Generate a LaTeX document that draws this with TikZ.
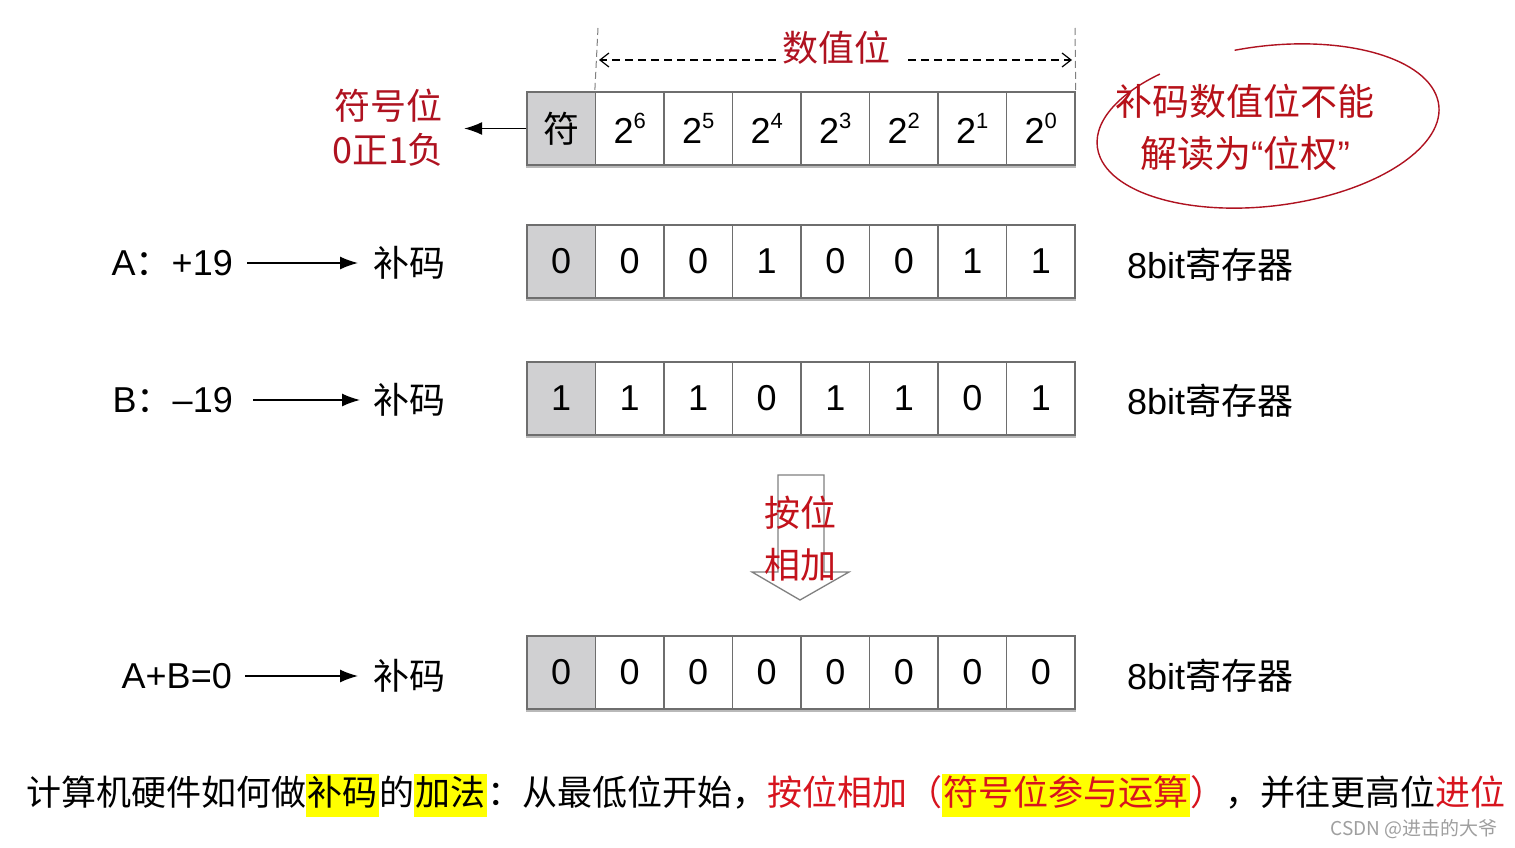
\documentclass[tikz,border=0pt]{standalone}
\usepackage{fontspec}
\setmainfont{Liberation Sans}
\newfontfamily\cjk{Noto Sans CJK SC}
\usetikzlibrary{arrows.meta}
\definecolor{lblred}{RGB}{175,18,32}
\definecolor{txtred}{RGB}{215,20,30}
\definecolor{cellgray}{RGB}{208,208,210}
\definecolor{edgegray}{RGB}{110,110,110}
\definecolor{hl}{RGB}{255,255,0}
\tikzset{
  x=1pt, y=-1pt,
  cell/.style={draw=edgegray, line width=1.4pt, minimum width=68.5pt, minimum height=73pt, inner sep=0pt, font=\fontsize{36}{36}\selectfont},
  signcell/.style={cell, fill=cellgray},
  lbl/.style={inner sep=0pt, font=\fontsize{36}{36}\selectfont},
  redlbl/.style={inner sep=0pt, text=lblred, font=\fontsize{36}{44}\selectfont\cjk, align=center},
  conv/.style={-{Latex[length=18pt,width=13pt]}, line width=1.4pt},
  dasharrow/.style={dashed, dash pattern=on 8pt off 5pt, line width=1.2pt, -{Straight Barb[length=9pt,width=14pt]}},
  vdash/.style={dashed, dash pattern=on 7pt off 4pt, line width=1pt, draw=gray},
}
\newcommand{\pw}[1]{2\raisebox{0.42em}{\fontsize{22}{22}\selectfont #1}}
\newcommand{\hlbox}[1]{{\setlength{\fboxsep}{1.5pt}\colorbox{hl}{\strut #1}}}
\begin{document}
\begin{tikzpicture}
\useasboundingbox (0,0) rectangle (1515,848);
\fill[white] (0,0) rectangle (1515,848);

% ---------- registers ----------
\node[signcell] (h0) at (561.25,128.5) {\cjk 符};
\foreach \i/\e in {1/6,2/5,3/4,4/3,5/2,6/1,7/0}{
  \node[cell] (h\i) at ({561.25+68.5*\i},128.5) {\pw{\e}};
}
\node[signcell] (a0) at (561.25,261.5) {0};
\foreach \i/\v in {1/0,2/0,3/1,4/0,5/0,6/1,7/1}{
  \node[cell] (a\i) at ({561.25+68.5*\i},261.5) {\v};
}
\node[signcell] (b0) at (561.25,398.5) {1};
\foreach \i/\v in {1/1,2/1,3/0,4/1,5/1,6/0,7/1}{
  \node[cell] (b\i) at ({561.25+68.5*\i},398.5) {\v};
}
\node[signcell] (s0) at (561.25,672.5) {0};
\foreach \i/\v in {1/0,2/0,3/0,4/0,5/0,6/0,7/0}{
  \node[cell] (s\i) at ({561.25+68.5*\i},672.5) {\v};
}
\foreach \r in {h,a,b,s}{
  \draw[gray!55, line width=2pt] ([yshift=-1.6pt]\r0.south west) -- ([yshift=-1.6pt]\r7.south east);
}

% ---------- header annotations ----------
\node[redlbl] (sym) at (388,128) {符号位\\0正1负};
\draw[conv, shorten >=20pt] (h0.west) -- (h0.west -| sym.east);

\node[redlbl] (num) at (836,48) {数值位};
\coordinate (vl) at (598,28);
\coordinate (vr) at (1075,28);
\draw[vdash] (vl) -- (h1.north west);
\draw[vdash] (vr) -- (h7.north east);
\coordinate (dl) at (599,60);
\coordinate (dr) at (1072,60);
\draw[dasharrow] ([xshift=-6pt]dl -| num.west) -- (dl);
\draw[dasharrow] ([xshift=18pt]dr -| num.east) -- (dr);

% ellipse note
\coordinate (ec) at (1268,126);
\draw[lblred, line width=1.4pt, rotate around={7:(ec)}]
  ([shift={(262:172 and 80)}]ec) arc[start angle=262, end angle=594, x radius=172, y radius=80];
\node[redlbl, text=txtred!85!black, font=\fontsize{37}{52}\selectfont\cjk] (note) at (1245,127) {补码数值位不能\\解读为{\fontspec{Liberation Sans}“}位权{\fontspec{Liberation Sans}”}};

% ---------- row labels ----------
\node[lbl, anchor=east] (la) at (233,263) {A{\cjk ：}+19};
\node[lbl, anchor=west] (ca) at (373,263) {\cjk 补码};
\draw[conv, shorten <=14pt, shorten >=15pt] (la.east) -- (ca.west);

\node[lbl, anchor=east] (lb) at (233,400) {B{\cjk ：}–19};
\node[lbl, anchor=west] (cb) at (373,400) {\cjk 补码};
\draw[conv, shorten <=20pt, shorten >=13pt] (lb.east) -- (lb.east -| cb.west);

\node[lbl, anchor=east] (ls) at (232,676) {A+B=0};
\node[lbl, anchor=west] (cs) at (373,676) {\cjk 补码};
\draw[conv, shorten <=13pt, shorten >=15pt] (ls.east) -- (ls.east -| cs.west);

\node[lbl, anchor=west] (ra) at (1127,265) {8bit{\cjk 寄存器}};
\node[lbl, anchor=west] (rb) at (1127,401) {8bit{\cjk 寄存器}};
\node[lbl, anchor=west] (rs) at (1127,676) {8bit{\cjk 寄存器}};

% ---------- hollow arrow ----------
\draw[gray, line width=1.3pt] (778,475) -- (824,475) -- (824,572) -- (849,572) -- (800,600) -- (752,572) -- (778,572) -- cycle;
\node[redlbl, text=txtred!90!black, font=\fontsize{36}{52}\selectfont\cjk] (add) at (800,539) {按位\\相加};

% ---------- bottom sentence ----------
\node[inner sep=0pt, anchor=base west, font=\fontsize{35}{36}\selectfont\cjk] (bottom) at (26,805)
 {计算机硬件如何做\hlbox{补码}的\hlbox{加法}：从最低位开始，\textcolor{txtred}{按位相加}\textcolor{txtred}{（}\hlbox{\textcolor{txtred}{符号位参与运算}}\textcolor{txtred}{）}，并往更高位\textcolor{txtred}{进位}};

\node[inner sep=0pt, text=gray!75, font=\fontsize{19}{20}\selectfont\cjk] (wm) at (1414,829) {CSDN @进击的大爷};
\end{tikzpicture}
\end{document}
